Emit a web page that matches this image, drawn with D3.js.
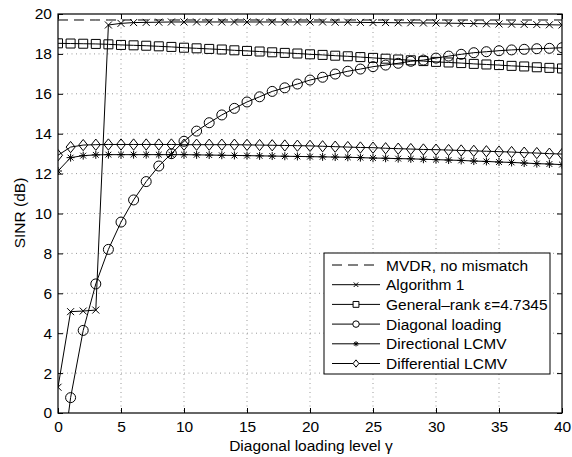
<!DOCTYPE html>
<html><head><meta charset="utf-8">
<script src="https://d3js.org/d3.v7.min.js"></script>
<style>body{margin:0;background:#fff}svg{display:block}text{font-family:"Liberation Sans",Arial,sans-serif}</style>
</head><body><svg id="c" width="572" height="457"></svg>
<script>
const gamma = d3.range(0, 41);
const xTicks = [0,5,10,15,20,25,30,35,40];
const yTicks = [0,2,4,6,8,10,12,14,16,18,20];
const seriesNames = ["MVDR, no mismatch","Algorithm 1","General\u2013rank \u03b5=4.7345","Diagonal loading","Directional LCMV","Differential LCMV"];
const mvdr = gamma.map(() => 19.7);
const alg1 = [1.29,5.08,5.11,5.16,19.45,19.53,19.57,19.58,19.59,19.6,19.6,19.6,19.6,19.6,19.6,19.6,19.6,19.6,19.6,19.6,19.6,19.6,19.59,19.59,19.58,19.57,19.57,19.56,19.56,19.55,19.55,19.54,19.53,19.52,19.51,19.5,19.49,19.48,19.47,19.46,19.45];
const genRank = [18.53,18.52,18.51,18.5,18.48,18.45,18.43,18.41,18.38,18.35,18.31,18.28,18.25,18.22,18.18,18.15,18.12,18.08,18.05,18.02,17.98,17.95,17.91,17.88,17.84,17.8,17.76,17.72,17.68,17.64,17.6,17.57,17.54,17.5,17.47,17.44,17.4,17.37,17.33,17.3,17.27];
const diagLoad = [-4.1,0.77,4.14,6.47,8.2,9.57,10.68,11.6,12.38,13.0,13.62,14.13,14.55,14.94,15.27,15.59,15.85,16.12,16.3,16.49,16.69,16.83,16.99,17.13,17.24,17.36,17.44,17.53,17.63,17.69,17.79,17.89,17.98,18.06,18.11,18.16,18.2,18.23,18.26,18.28,18.31];
const dirLCMV = [12.13,12.8,12.9,12.94,12.95,12.95,12.95,12.95,12.95,12.95,12.95,12.94,12.93,12.92,12.91,12.9,12.89,12.88,12.87,12.86,12.85,12.84,12.83,12.82,12.8,12.78,12.77,12.75,12.74,12.72,12.7,12.68,12.66,12.63,12.61,12.58,12.56,12.53,12.5,12.48,12.45];
const difLCMV = [12.92,13.33,13.43,13.45,13.46,13.46,13.46,13.46,13.46,13.46,13.45,13.45,13.45,13.45,13.45,13.44,13.43,13.42,13.41,13.4,13.39,13.37,13.35,13.33,13.31,13.3,13.27,13.25,13.23,13.21,13.2,13.18,13.16,13.14,13.12,13.1,13.08,13.05,13.03,13.0,12.98];

const svg = d3.select("#c");
const L=58, R=562, T=14, B=413;
const x = d3.scaleLinear().domain([0,40]).range([L,R]);
const y = d3.scaleLinear().domain([0,20]).range([B,T]);
const FS = 15.5;

svg.append("defs").append("clipPath").attr("id","clip").append("rect")
  .attr("x",L).attr("y",T).attr("width",R-L).attr("height",B-T);

// grid
const grid = svg.append("g").attr("stroke","#999").attr("stroke-width",1).attr("stroke-dasharray","1,3.5");
xTicks.slice(1,-1).forEach(t=>grid.append("line").attr("x1",x(t)).attr("x2",x(t)).attr("y1",T).attr("y2",B));
yTicks.slice(1,-1).forEach(t=>grid.append("line").attr("x1",L).attr("x2",R).attr("y1",y(t)).attr("y2",y(t)));

function styleAxis(g){
  g.select(".domain").remove();
  g.attr("font-size",FS).attr("font-family","Liberation Sans, Arial");
  g.selectAll("text").attr("fill","#000");
  g.selectAll("line").attr("stroke","#000");
}
svg.append("g").attr("transform",`translate(0,${B})`)
  .call(d3.axisBottom(x).tickValues(xTicks).tickSizeInner(-5).tickSizeOuter(0).tickPadding(8))
  .call(styleAxis);
svg.append("g").attr("transform",`translate(0,${T})`)
  .call(d3.axisTop(x).tickValues(xTicks).tickSizeInner(-5).tickSizeOuter(0).tickFormat(""))
  .call(styleAxis);
svg.append("g").attr("transform",`translate(${L},0)`)
  .call(d3.axisLeft(y).tickValues(yTicks).tickSizeInner(-5).tickSizeOuter(0).tickPadding(6))
  .call(styleAxis);
svg.append("g").attr("transform",`translate(${R},0)`)
  .call(d3.axisRight(y).tickValues(yTicks).tickSizeInner(-5).tickSizeOuter(0).tickFormat(""))
  .call(styleAxis);

function marker(type, s){
  const h=s/2;
  switch(type){
    case "x": return `M${-h},${-h}L${h},${h}M${-h},${h}L${h},${-h}`;
    case "square": return `M${-h},${-h}H${h}V${h}H${-h}Z`;
    case "circle": return `M${h},0A${h},${h} 0 1 1 ${-h},0A${h},${h} 0 1 1 ${h},0Z`;
    case "star": {const d=h*0.72; return `M0,${-h}V${h}M${-h},0H${h}M${-d},${-d}L${d},${d}M${-d},${d}L${d},${-d}`;}
    case "diamond": return `M0,${-h*1.25}L${h},0L0,${h*1.25}L${-h},0Z`;
  }
  return "";
}
const series = [
  {name:seriesNames[0], v:mvdr, m:null, dash:"10,6"},
  {name:seriesNames[1], v:alg1, m:"x", s:7},
  {name:seriesNames[2], v:genRank, m:"square", s:9},
  {name:seriesNames[3], v:diagLoad, m:"circle", s:10},
  {name:seriesNames[4], v:dirLCMV, m:"star", s:8},
  {name:seriesNames[5], v:difLCMV, m:"diamond", s:9},
];
const plot = svg.append("g").attr("clip-path","url(#clip)");
const line = d3.line().x((d,i)=>x(gamma[i])).y(d=>y(d));
series.forEach(sr=>{
  plot.append("path").attr("d",line(sr.v)).attr("fill","none").attr("stroke","#000").attr("stroke-width",1)
    .attr("stroke-dasharray",sr.dash||null);
  if(sr.m){
    plot.append("g").selectAll("path").data(sr.v).join("path")
      .attr("transform",(d,i)=>`translate(${x(gamma[i])},${y(d)})`)
      .attr("d",marker(sr.m,sr.s)).attr("fill","none").attr("stroke","#000").attr("stroke-width",1);
  }
});

svg.append("rect").attr("x",L).attr("y",T).attr("width",R-L).attr("height",B-T).attr("fill","none").attr("stroke","#000").attr("stroke-width",1.2);

// legend
const lg = svg.append("g");
const lx=324, ly=253, lw=226, lh=121;
lg.append("rect").attr("x",lx).attr("y",ly).attr("width",lw).attr("height",lh).attr("fill","#fff").attr("stroke","#000").attr("stroke-width",1);
series.forEach((sr,i)=>{
  const yy = 265 + i*19.7;
  lg.append("line").attr("x1",332).attr("x2",380).attr("y1",yy).attr("y2",yy).attr("stroke","#000").attr("stroke-dasharray",sr.dash||null);
  if(sr.m) lg.append("path").attr("transform",`translate(356,${yy})`).attr("d",marker(sr.m, sr.s*0.65)).attr("fill","#fff").attr("stroke","#000");
  lg.append("text").attr("x",386).attr("y",yy+5.5).attr("font-size",FS).text(sr.name);
});

svg.append("text").attr("x",311).attr("y",451).attr("text-anchor","middle").attr("font-size",FS).text("Diagonal loading level \u03b3");
svg.append("text").attr("transform","translate(25,213) rotate(-90)").attr("text-anchor","middle").attr("font-size",FS).text("SINR (dB)");
</script></body></html>
